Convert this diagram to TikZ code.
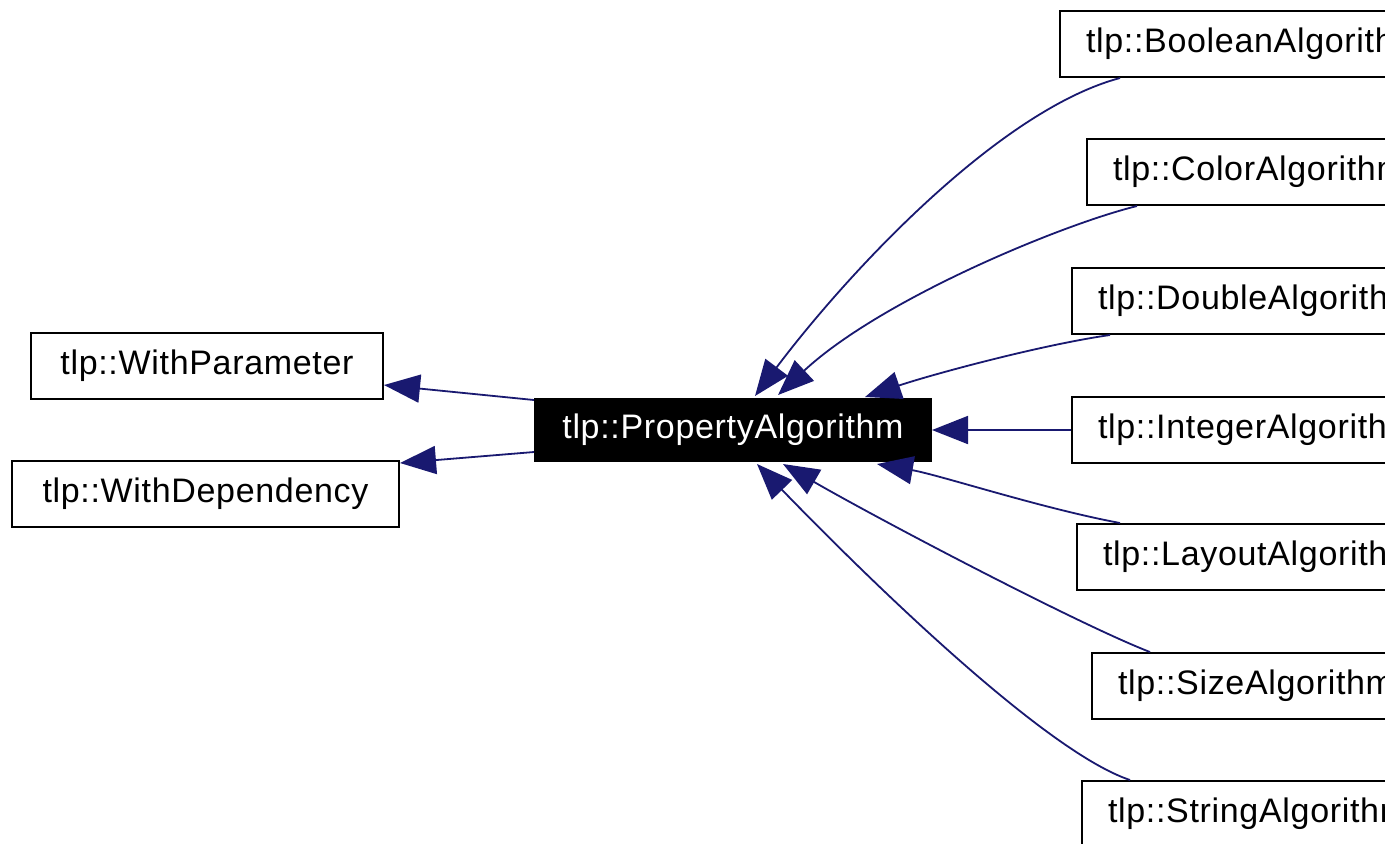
\documentclass[tikz,border=0pt]{standalone}
\usepackage{fontspec}
\setmainfont[LetterSpace=2]{Liberation Sans}
\usetikzlibrary{arrows.meta,calc}
\definecolor{edgeblue}{HTML}{191970}
\tikzset{
  box/.style={draw=black, line width=1pt, fill=white, inner ysep=0pt, minimum height=33pt,
    font=\fontsize{17}{20}\selectfont, anchor=north west},
  rbox/.style={box, inner xsep=13pt},
  edge/.style={draw=edgeblue, line width=0.9pt, -{Triangle[length=18pt,width=14pt]}, edgeblue}
}
\begin{document}
\begin{tikzpicture}[x=0.5pt,y=-0.5pt]
\clip (0,0) rectangle (1385,843);
\fill[white] (0,0) rectangle (1385,843);
\node[box, minimum width=176pt] (wp) at (30,332) {tlp::WithParameter};
\node[box, minimum width=193.5pt] (wd) at (11,460) {tlp::WithDependency};
\node[box, fill=black, text=white, minimum width=198pt, minimum height=31pt] (p) at (534,398) {tlp::PropertyAlgorithm};
\node[rbox] (bool) at (1059,10) {tlp::BooleanAlgorithm};
\node[rbox] (color) at (1086,138) {tlp::ColorAlgorithm};
\node[rbox] (double) at (1071,267) {tlp::DoubleAlgorithm};
\node[rbox] (int) at (1071,396) {tlp::IntegerAlgorithm};
\node[rbox] (layout) at (1076,523) {tlp::LayoutAlgorithm};
\node[rbox] (size) at (1091,652) {tlp::SizeAlgorithm};
\node[rbox] (string) at (1081,780) {tlp::StringAlgorithm};
% left edges
\draw[edge] ($(p.north west)+(0,2)$) -- ($(wp.south east)+(0,-15)$);
\draw[edge] ($(p.south west)+(0,-10)$) -- ($(wd.north east)+(0,3)$);
% right edges
\draw[edge] ($(bool.south west)+(61,0)$) .. controls (1000,110) and (850,270) .. ($(p.north west)+(221,-2)$);
\draw[edge] ($(color.south west)+(51,0)$) .. controls (1060,225) and (880,300) .. ($(p.north west)+(244,-3)$);
\draw[edge] ($(double.south west)+(39,0)$) .. controls (1040,345) and (930,375) .. ($(p.north west)+(331,-1)$);
\draw[edge] (int.west |- p.east) -- (p.east);
\draw[edge] ($(layout.north west)+(44,0)$) .. controls (1040,508) and (940,475) .. ($(p.south west)+(343,2)$);
\draw[edge] ($(size.north west)+(59,0)$) .. controls (1080,625) and (880,520) .. ($(p.south west)+(249,2)$);
\draw[edge] ($(string.north west)+(49,0)$) .. controls (1040,750) and (850,560) .. ($(p.south west)+(223,2)$);
\end{tikzpicture}
\end{document}
